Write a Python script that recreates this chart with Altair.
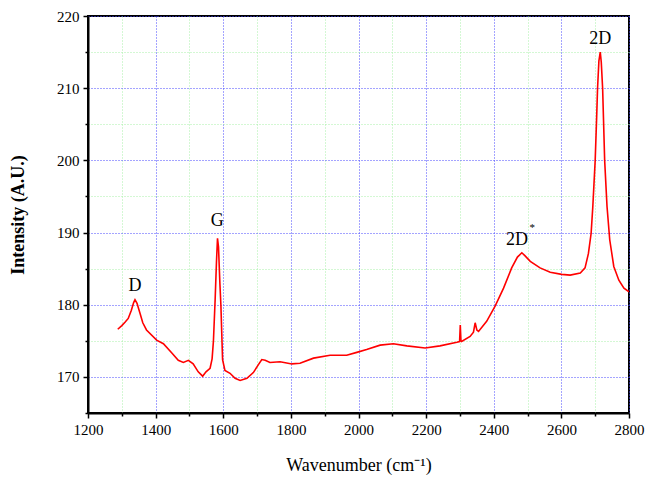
import altair as alt
import pandas as pd

wavenumber = [1288, 1300, 1310, 1319, 1328, 1335, 1339, 1345, 1350, 1354, 1362, 1373, 1403, 1423, 1448,
              1467, 1482, 1497, 1511, 1526, 1539, 1549, 1561, 1567, 1571, 1576, 1580, 1583, 1586, 1588,
              1590, 1593, 1598, 1605, 1620, 1635, 1650, 1670, 1689, 1704, 1714, 1724, 1738, 1768, 1803,
              1827, 1867, 1916, 1965, 1995, 2024, 2064, 2103, 2143, 2197, 2241, 2291, 2299, 2301, 2303,
              2305, 2330, 2340, 2345, 2350, 2355, 2379, 2404, 2429, 2453, 2470, 2483, 2492, 2508, 2537,
              2567, 2601, 2626, 2656, 2670, 2680, 2688, 2693, 2700, 2704, 2707, 2711, 2715, 2718, 2722,
              2725, 2728, 2735, 2743, 2755, 2770, 2785, 2800]
intensity = [176.6, 177.1, 177.6, 178.1, 179.2, 180.3, 180.7, 180.2, 179.4, 178.8, 177.5, 176.5, 175.1, 174.6, 173.3,
             172.3, 172.0, 172.3, 171.8, 170.7, 170.1, 170.7, 171.2, 172.5, 175.0, 180.7, 186.0, 189.2, 188.0, 185.5,
             183.0, 180.0, 172.4, 170.9, 170.5, 169.8, 169.5, 169.8, 170.6, 171.7, 172.4, 172.3, 172.0, 172.1, 171.8,
             171.9, 172.6, 173.0, 173.0, 173.4, 173.8, 174.4, 174.6, 174.3, 174.0, 174.3, 174.8, 174.9, 177.2, 175.0,
             174.9, 175.6, 176.2, 177.5, 176.5, 176.3, 177.7, 179.8, 182.3, 185.1, 186.6, 187.2, 186.8, 186.0, 185.1,
             184.5, 184.2, 184.1, 184.4, 185.1, 187.1, 189.9, 193.6, 200.0, 205.5, 210.0, 213.8, 215.0, 213.6, 210.0,
             205.0, 200.0, 193.6, 189.0, 185.3, 183.4, 182.3, 181.8]

peak_labels = ["D", "G", "2D", "2D"]
peak_x = [1339, 1582, 2469, 2715]
peak_y = [182.6, 191.6, 188.9, 216.8]
star_label = ["*"]
star_x = [2514]
star_y = [190.6]

x_ticks = list(range(1200, 2801, 100))
y_ticks = list(range(165, 221, 5))

df = pd.DataFrame({"x": wavenumber, "y": intensity})
lab = pd.DataFrame({"t": peak_labels, "x": peak_x, "y": peak_y})
star = pd.DataFrame({"t": star_label, "x": star_x, "y": star_y})

FONT = "Liberation Serif"
BLUE = "#4848ff"
GREEN = "#a8f0a8"

xscale = alt.Scale(domain=[1200, 2800], nice=False, zero=False)
yscale = alt.Scale(domain=[165, 220], nice=False, zero=False)

xaxis = alt.Axis(
    values=x_ticks,
    format="d",
    labelExpr="datum.value % 200 == 0 ? datum.label : ''",
    labelFont=FONT, labelFontSize=15, labelColor="black", labelPadding=4,
    labelOverlap=False, labelFlush=False,
    title="Wavenumber (cm⁻¹)", titleFont=FONT, titleFontSize=18, titleFontWeight="normal",
    titleColor="black", titlePadding=19,
    domainColor="black", domainWidth=2,
    tickColor="black", tickWidth=1.5,
    tickSize={"condition": {"test": "datum.value % 200 == 0", "value": 5}, "value": 3},
    grid=True,
    gridColor={"condition": {"test": "datum.value % 200 == 0", "value": BLUE}, "value": GREEN},
    gridDash=[1, 2], gridWidth=1,
)
yaxis = alt.Axis(
    values=y_ticks,
    format="d",
    labelExpr="datum.value % 10 == 0 ? datum.label : ''",
    labelFont=FONT, labelFontSize=15, labelColor="black", labelPadding=4,
    labelOverlap=False, labelFlush=False,
    title="Intensity (A.U.)", titleFont=FONT, titleFontSize=18, titleFontWeight="bold",
    titleColor="black", titlePadding=29,
    domainColor="black", domainWidth=2,
    tickColor="black", tickWidth=1.5,
    tickSize={"condition": {"test": "datum.value % 10 == 0", "value": 5}, "value": 3},
    grid=True,
    gridColor={"condition": {"test": "datum.value % 10 == 0", "value": BLUE}, "value": GREEN},
    gridDash=[1, 2], gridWidth=1,
)

line = alt.Chart(df).mark_line(color="#ff0000", strokeWidth=1.6, clip=True).encode(
    x=alt.X("x:Q", scale=xscale, axis=xaxis),
    y=alt.Y("y:Q", scale=yscale, axis=yaxis),
)

texts = alt.Chart(lab).mark_text(font=FONT, fontSize=18, color="black", baseline="middle").encode(
    x=alt.X("x:Q", scale=xscale, axis=xaxis), y=alt.Y("y:Q", scale=yscale, axis=yaxis), text="t:N"
)
stars = alt.Chart(star).mark_text(font=FONT, fontSize=11, color="black", baseline="middle").encode(
    x=alt.X("x:Q", scale=xscale, axis=xaxis), y=alt.Y("y:Q", scale=yscale, axis=yaxis), text="t:N"
)

chart = alt.layer(line, texts, stars).properties(
    width=541, height=397,
    autosize=alt.AutoSizeParams(type="none"),
    padding={"left": 88, "top": 16, "right": 17, "bottom": 65},
    background="white",
).configure_view(stroke="black", strokeWidth=2).configure_axis(
    labelFont=FONT, titleFont=FONT
).configure_text(font=FONT)

chart.save("out.html", embed_options={"renderer": "svg", "actions": False})
